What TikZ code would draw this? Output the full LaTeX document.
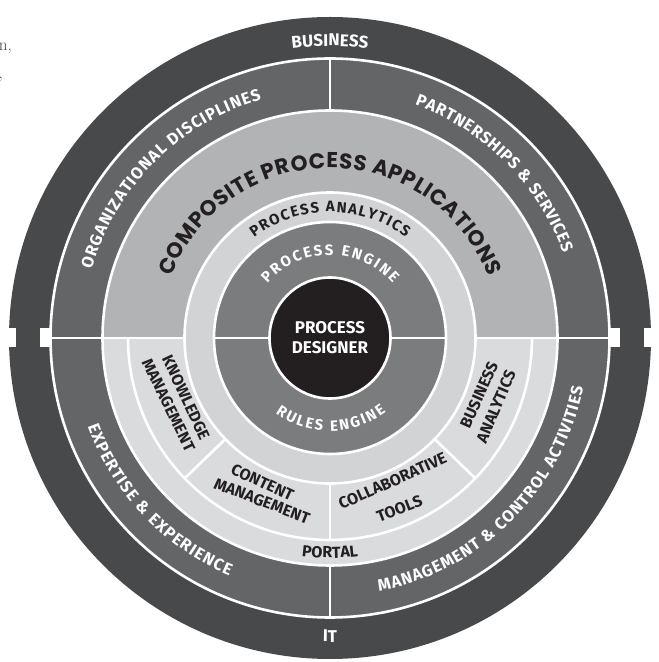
\documentclass[tikz,border=0pt]{standalone}
\usepackage{fontspec}
\newfontfamily\lblfont{Fira Sans}
\newfontfamily\compfont{Poppins}
\usetikzlibrary{decorations.text}
\definecolor{darkring}{HTML}{48494B}
\definecolor{midring}{HTML}{646567}
\definecolor{complight}{HTML}{B2B3B5}
\definecolor{seglight}{HTML}{DADBDD}
\definecolor{ringlight}{HTML}{D2D3D5}
\definecolor{engine}{HTML}{7B7C7E}
\definecolor{core}{HTML}{231F20}
\definecolor{ink}{HTML}{231F20}
\definecolor{frag}{HTML}{404040}
\newcommand\fA{\lblfont\bfseries\fontsize{17pt}{17pt}\selectfont}
\newcommand\fB{\lblfont\bfseries\fontsize{16.5pt}{16.5pt}\selectfont}
\newcommand\fC{\lblfont\bfseries\fontsize{16pt}{16pt}\selectfont}
\newcommand\fD{\lblfont\bfseries\fontsize{15pt}{15pt}\selectfont}
\newcommand\fE{\compfont\bfseries\fontsize{21.5pt}{21.5pt}\selectfont}
\newcommand\ringtext[7][center]{{#3%
  \path[decorate, decoration={text along path, text align={#1}, text color=#2,
    text={#7}}] ([shift={(#5:#4)}]C) arc[start angle=#5, end angle=#6, radius=#4];}}
\tikzset{
  wline/.style={white, line width=2.6pt},
  segtxt/.style={font=\fC, text=ink, inner sep=0pt, align=center},
  coretxt/.style={font=\fA, text=white, inner sep=0pt},
  fragtxt/.style={font=\fontsize{17pt}{17pt}\selectfont, text=frag, anchor=base east, inner sep=0pt},
}
\begin{document}
\begin{tikzpicture}[x=1pt,y=1pt]
\useasboundingbox (0,0) rectangle (659,662);
\coordinate (C) at (330,324);
% fills
\fill[darkring] (C) circle[radius=321];
\fill[midring] (C) circle[radius=279.5];
\fill[complight] ([shift={(0:227.5)}]C) arc[start angle=0,end angle=180,radius=227.5] -- cycle;
\fill[seglight] ([shift={(180:227.5)}]C) arc[start angle=180,end angle=360,radius=227.5] -- cycle;
\fill[ringlight] (C) circle[radius=145.5];
\fill[engine] (C) circle[radius=116];
\fill[core] (C) circle[radius=60.5];
% white boundaries
\draw[wline] (C) circle[radius=279.5];
\draw[wline] (C) circle[radius=227.5];
\draw[wline] (C) circle[radius=145.5];
\draw[wline] (C) circle[radius=116];
\draw[wline] (C) circle[radius=60.5];
\draw[wline] ([shift={(180:202)}]C) arc[start angle=180,end angle=360,radius=202];
\draw[wline] ([shift={(180:279.5)}]C) -- ([shift={(180:145.5)}]C);
\draw[wline] ([shift={(0:279.5)}]C) -- ([shift={(0:145.5)}]C);
\draw[wline] ([shift={(180:116)}]C) -- ([shift={(180:60.5)}]C);
\draw[wline] ([shift={(0:116)}]C) -- ([shift={(0:60.5)}]C);
\draw[wline] ([shift={(90:279.5)}]C) -- ([shift={(90:227.5)}]C);
\draw[wline] ([shift={(270:279.5)}]C) -- ([shift={(270:227.5)}]C);
\draw[wline] ([shift={(270:202)}]C) -- ([shift={(270:145.5)}]C);
\draw[wline] ([shift={(224:202)}]C) -- ([shift={(224:145.5)}]C);
\draw[wline] ([shift={(316:202)}]C) -- ([shift={(316:145.5)}]C);
% notches
\fill[white] ([shift={(-332,-9.5)}]C) rectangle ([shift={(-314,9.5)}]C);
\fill[white] ([shift={(-290,-9.5)}]C) rectangle ([shift={(-278,9.5)}]C);
\fill[white] ([shift={(314,-9.5)}]C) rectangle ([shift={(332,9.5)}]C);
\fill[white] ([shift={(278,-9.5)}]C) rectangle ([shift={(290,9.5)}]C);
% ring texts
\ringtext{white}{\fA}{292}{120}{60}{BUSINESS}
\ringtext{white}{\fA}{304}{240}{300}{IT}
\ringtext[fit to path]{white}{\fB}{248}{164}{106}{ORGANIZATIONAL DISCIPLINES}
\ringtext[fit to path]{white}{\fB}{248}{70}{20}{PARTNERSHIPS {\&} SERVICES}
\ringtext[fit to path]{white}{\fB}{258}{200}{247}{EXPERTISE {\&} EXPERIENCE}
\ringtext[fit to path]{white}{\fB}{258}{281}{349}{MANAGEMENT {\&} CONTROL ACTIVITIES}
\ringtext[fit to path]{ink}{\fE}{170}{159}{21}{COMPOSITE PROCESS APPLICATIONS}
\ringtext[fit to path]{ink}{\fD}{126}{127}{53}{PROCESS ANALYTICS}
\ringtext[fit to path]{white}{\fD}{83}{139}{41}{PROCESS ENGINE}
\ringtext[fit to path]{white}{\fD}{93}{234}{307}{RULES ENGINE}
\ringtext{ink}{\fC}{220}{240}{300}{PORTAL}
% core
\node[coretxt] (pd1) at (330,334) {PROCESS};
\node[coretxt] (pd2) at (330,314) {DESIGNER};
% segment texts
\node[segtxt, rotate=-65] (km1) at (186,264.5) {KNOWLEDGE};
\node[segtxt, rotate=-64] (km2) at (168.5,257) {MANAGEMENT};
\node[segtxt, rotate=-25] (cm1) at (262.5,179.5) {CONTENT};
\node[segtxt, rotate=-21] (cm2) at (262,161) {MANAGEMENT};
\node[segtxt, rotate=24] (ct1) at (392.5,181) {COLLABORATIVE};
\node[segtxt, rotate=21] (ct2) at (399.5,153.5) {TOOLS};
\node[segtxt, rotate=66] (ba1) at (479,267) {BUSINESS};
\node[segtxt, rotate=67] (ba2) at (496,255.5) {ANALYTICS};
% page fragments
\node[fragtxt] (fr1) at (12,611) {n,};
\node[fragtxt] (fr2) at (3,583) {,};
\end{tikzpicture}
\end{document}
